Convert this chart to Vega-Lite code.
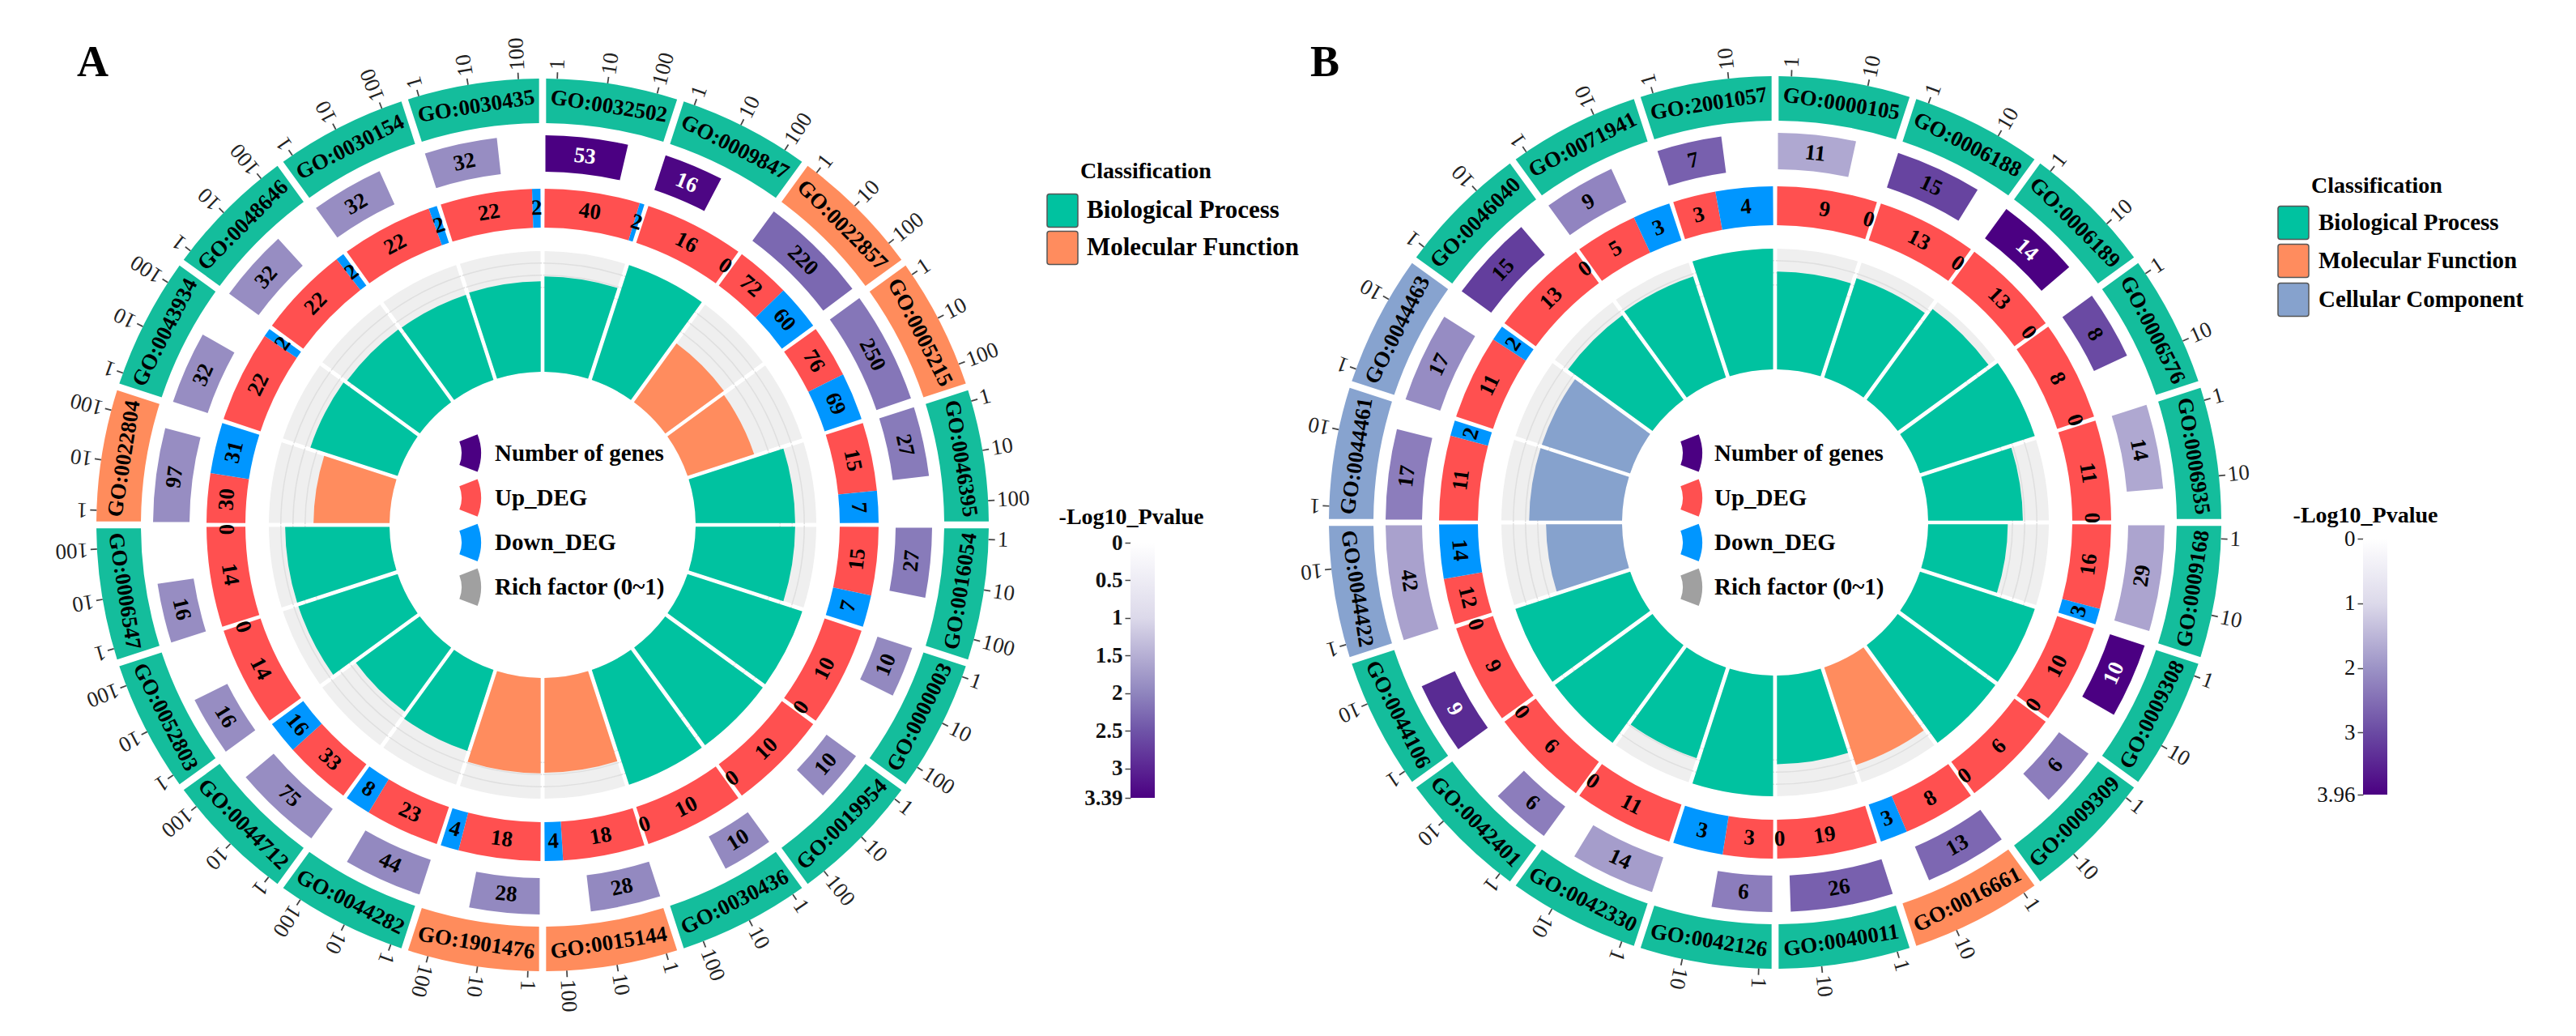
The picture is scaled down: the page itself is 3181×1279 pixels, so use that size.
{"$schema":"https://vega.github.io/schema/vega-lite/v6.json","width":3181,"height":1279,"padding":0,"autosize":{"type":"none"},"background":"white",
"config":{"view":{"stroke":null},"scale":{"pointPadding":0},"text":{"font":"Liberation Serif","fontWeight":"bold","fontSize":27,"color":"#000"}},
"datasets":{"s":[
{"panel":"A","idx":0,"go":"GO:0032502","cls":"Biological Process","up":40,"down":2,"genes":53,"p":3.39,"rich":0.79},
{"panel":"A","idx":1,"go":"GO:0009847","cls":"Biological Process","up":16,"down":0,"genes":16,"p":3.35,"rich":1},
{"panel":"A","idx":2,"go":"GO:0022857","cls":"Molecular Function","up":72,"down":60,"genes":220,"p":2.3,"rich":0.6},
{"panel":"A","idx":3,"go":"GO:0005215","cls":"Molecular Function","up":76,"down":69,"genes":250,"p":2.15,"rich":0.58},
{"panel":"A","idx":4,"go":"GO:0046395","cls":"Biological Process","up":15,"down":7,"genes":27,"p":2.1,"rich":0.825},
{"panel":"A","idx":5,"go":"GO:0016054","cls":"Biological Process","up":15,"down":7,"genes":27,"p":2.1,"rich":0.825},
{"panel":"A","idx":6,"go":"GO:0000003","cls":"Biological Process","up":10,"down":0,"genes":10,"p":1.95,"rich":1},
{"panel":"A","idx":7,"go":"GO:0019954","cls":"Biological Process","up":10,"down":0,"genes":10,"p":1.95,"rich":1},
{"panel":"A","idx":8,"go":"GO:0030436","cls":"Biological Process","up":10,"down":0,"genes":10,"p":1.95,"rich":1},
{"panel":"A","idx":9,"go":"GO:0015144","cls":"Molecular Function","up":18,"down":4,"genes":28,"p":1.95,"rich":0.785},
{"panel":"A","idx":10,"go":"GO:1901476","cls":"Molecular Function","up":18,"down":4,"genes":28,"p":1.95,"rich":0.79},
{"panel":"A","idx":11,"go":"GO:0044282","cls":"Biological Process","up":23,"down":8,"genes":44,"p":1.95,"rich":0.705},
{"panel":"A","idx":12,"go":"GO:0044712","cls":"Biological Process","up":33,"down":16,"genes":75,"p":1.9,"rich":0.655},
{"panel":"A","idx":13,"go":"GO:0052803","cls":"Biological Process","up":14,"down":0,"genes":16,"p":1.9,"rich":0.865},
{"panel":"A","idx":14,"go":"GO:0006547","cls":"Biological Process","up":14,"down":0,"genes":16,"p":1.9,"rich":0.865},
{"panel":"A","idx":15,"go":"GO:0022804","cls":"Molecular Function","up":30,"down":31,"genes":97,"p":1.9,"rich":0.63},
{"panel":"A","idx":16,"go":"GO:0043934","cls":"Biological Process","up":22,"down":2,"genes":32,"p":1.9,"rich":0.76},
{"panel":"A","idx":17,"go":"GO:0048646","cls":"Biological Process","up":22,"down":2,"genes":32,"p":1.9,"rich":0.745},
{"panel":"A","idx":18,"go":"GO:0030154","cls":"Biological Process","up":22,"down":2,"genes":32,"p":1.9,"rich":0.74},
{"panel":"A","idx":19,"go":"GO:0030435","cls":"Biological Process","up":22,"down":2,"genes":32,"p":1.9,"rich":0.75},
{"panel":"B","idx":0,"go":"GO:0000105","cls":"Biological Process","up":9,"down":0,"genes":11,"p":1.7,"rich":0.81},
{"panel":"B","idx":1,"go":"GO:0006188","cls":"Biological Process","up":13,"down":0,"genes":15,"p":3.1,"rich":0.865},
{"panel":"B","idx":2,"go":"GO:0006189","cls":"Biological Process","up":13,"down":0,"genes":14,"p":3.96,"rich":0.93},
{"panel":"B","idx":3,"go":"GO:0006576","cls":"Biological Process","up":8,"down":0,"genes":8,"p":3,"rich":1},
{"panel":"B","idx":4,"go":"GO:0006935","cls":"Biological Process","up":11,"down":0,"genes":14,"p":1.7,"rich":0.785},
{"panel":"B","idx":5,"go":"GO:0009168","cls":"Biological Process","up":16,"down":3,"genes":29,"p":1.75,"rich":0.66},
{"panel":"B","idx":6,"go":"GO:0009308","cls":"Biological Process","up":10,"down":0,"genes":10,"p":3.96,"rich":1},
{"panel":"B","idx":7,"go":"GO:0009309","cls":"Biological Process","up":6,"down":0,"genes":6,"p":2.3,"rich":1},
{"panel":"B","idx":8,"go":"GO:0016661","cls":"Molecular Function","up":8,"down":3,"genes":13,"p":2.6,"rich":0.85},
{"panel":"B","idx":9,"go":"GO:0040011","cls":"Biological Process","up":19,"down":0,"genes":26,"p":2.7,"rich":0.735},
{"panel":"B","idx":10,"go":"GO:0042126","cls":"Biological Process","up":3,"down":3,"genes":6,"p":2.3,"rich":1},
{"panel":"B","idx":11,"go":"GO:0042330","cls":"Biological Process","up":11,"down":0,"genes":14,"p":1.85,"rich":0.79},
{"panel":"B","idx":12,"go":"GO:0042401","cls":"Biological Process","up":6,"down":0,"genes":6,"p":2.3,"rich":1},
{"panel":"B","idx":13,"go":"GO:0044106","cls":"Biological Process","up":9,"down":0,"genes":9,"p":3.5,"rich":1},
{"panel":"B","idx":14,"go":"GO:0044422","cls":"Cellular Component","up":12,"down":14,"genes":42,"p":1.8,"rich":0.63},
{"panel":"B","idx":15,"go":"GO:0044461","cls":"Cellular Component","up":11,"down":2,"genes":17,"p":2.3,"rich":0.77},
{"panel":"B","idx":16,"go":"GO:0044463","cls":"Cellular Component","up":11,"down":2,"genes":17,"p":2.1,"rich":0.77},
{"panel":"B","idx":17,"go":"GO:0046040","cls":"Biological Process","up":13,"down":0,"genes":15,"p":3.2,"rich":0.865},
{"panel":"B","idx":18,"go":"GO:0071941","cls":"Biological Process","up":5,"down":3,"genes":9,"p":2.2,"rich":0.88},
{"panel":"B","idx":19,"go":"GO:2001057","cls":"Biological Process","up":3,"down":4,"genes":7,"p":2.7,"rich":1}
],
"items":[{"panel":"A","item":"Number of genes"},{"panel":"A","item":"Up_DEG"},{"panel":"A","item":"Down_DEG"},{"panel":"A","item":"Rich factor (0~1)"},{"panel":"B","item":"Number of genes"},{"panel":"B","item":"Up_DEG"},{"panel":"B","item":"Down_DEG"},{"panel":"B","item":"Rich factor (0~1)"}],
"classes":[{"panel":"A","slot":1,"cls":"Biological Process"},{"panel":"A","slot":2,"cls":"Molecular Function"},{"panel":"B","slot":11,"cls":"Biological Process"},{"panel":"B","slot":12,"cls":"Molecular Function"},{"panel":"B","slot":13,"cls":"Cellular Component"}],
"panels":[{"panel":"A"},{"panel":"B"}]},
"data":{"name":"s"},
"transform":[
{"calculate":"datum.idx+1","as":"end"},
{"calculate":"datum.idx+0.5","as":"mid"},
{"calculate":"datum.mid*18>90&&datum.mid*18<270?datum.mid*18-180:datum.mid*18","as":"rot"},
{"calculate":"datum.idx+min(1,datum.panel=='A'?0.105+0.361*log(datum.genes)/LN10:0.117+0.55*log(datum.genes)/LN10)","as":"gend"},
{"calculate":"(datum.idx+datum.gend)/2","as":"gmid"},
{"calculate":"datum.gmid*18>90&&datum.gmid*18<270?datum.gmid*18-180:datum.gmid*18","as":"grot"},
{"calculate":"datum.idx+0.02","as":"u0"},
{"calculate":"datum.idx+0.02+0.96*datum.up/(datum.up+datum.down)","as":"u1"},
{"calculate":"datum.idx+0.98","as":"d1"},
{"calculate":"(datum.u0+datum.u1)/2","as":"umid"},
{"calculate":"datum.down>0?(datum.u1+datum.d1)/2:datum.idx+0.955","as":"dmid"},
{"calculate":"datum.umid*18>90&&datum.umid*18<270?datum.umid*18-180:datum.umid*18","as":"urot"},
{"calculate":"datum.dmid*18>90&&datum.dmid*18<270?datum.dmid*18-180:datum.dmid*18","as":"drot"}
],
"encoding":{
"x":{"field":"panel","type":"nominal","axis":null,"scale":{"domain":["A","B"],"range":[670,2192]}},
"y":{"field":"panel","type":"nominal","axis":null,"scale":{"domain":["A","B"],"range":[648,645]}}
},
"resolve":{"scale":{"x":"independent","y":"independent","color":"independent"}},
"layer":[
{"mark":{"type":"arc","outerRadius":551,"innerRadius":496,"padAngle":0.0117},
"encoding":{"theta":{"field":"idx","type":"quantitative","stack":null,"scale":{"domain":[0,20]}},"theta2":{"field":"end"},"color":{"field":"cls","type":"nominal","legend":null,"scale":{"domain":["Biological Process","Molecular Function","Cellular Component"],"range":["#14bd9c","#ff8c5c","#87a3cf"]}}}},
{"transform":[{"filter":"datum.panel=='A'"}],"mark":{"type":"arc","outerRadius":481,"innerRadius":436,"padAngle":0.0108},
"encoding":{"theta":{"field":"idx","type":"quantitative","stack":null,"scale":{"domain":[0,20]}},"theta2":{"field":"gend"},"color":{"field":"p","type":"quantitative","legend":null,"scale":{"domain":[0,1,2,2.5,3.39],"range":["#ffffff","#dcd9ea","#8f85be","#6f54a8","#4b0082"]}}}},
{"transform":[{"filter":"datum.panel=='B'"}],"mark":{"type":"arc","outerRadius":481,"innerRadius":436,"padAngle":0.0108},
"encoding":{"theta":{"field":"idx","type":"quantitative","stack":null,"scale":{"domain":[0,20]}},"theta2":{"field":"gend"},"color":{"field":"p","type":"quantitative","legend":null,"scale":{"domain":[0,1,2,3,3.96],"range":["#ffffff","#dcd9ea","#9c93c6","#6a4aa3","#4b0082"]}}}},
{"mark":{"type":"arc","outerRadius":415,"innerRadius":367,"fill":"#ff5050"},
"encoding":{"theta":{"field":"u0","type":"quantitative","stack":null,"scale":{"domain":[0,20]}},"theta2":{"field":"u1"}}},
{"mark":{"type":"arc","outerRadius":415,"innerRadius":367,"fill":"#0096ff"},
"encoding":{"theta":{"field":"u1","type":"quantitative","stack":null,"scale":{"domain":[0,20]}},"theta2":{"field":"d1"}}},
{"mark":{"type":"arc","outerRadius":338,"innerRadius":189,"padAngle":0.013,"fill":"#efefef"},
"encoding":{"theta":{"field":"idx","type":"quantitative","stack":null,"scale":{"domain":[0,20]}},"theta2":{"field":"end"}}},
{"mark":{"type":"arc","outerRadius":294,"innerRadius":292.5,"padAngle":0.0035,"fill":"#dfdfdf"},
"encoding":{"theta":{"field":"idx","type":"quantitative","stack":null,"scale":{"domain":[0,20]}},"theta2":{"field":"end"}}},
{"mark":{"type":"arc","outerRadius":309,"innerRadius":307.5,"padAngle":0.0035,"fill":"#dfdfdf"},
"encoding":{"theta":{"field":"idx","type":"quantitative","stack":null,"scale":{"domain":[0,20]}},"theta2":{"field":"end"}}},
{"mark":{"type":"arc","outerRadius":324,"innerRadius":322.5,"padAngle":0.0035,"fill":"#dfdfdf"},
"encoding":{"theta":{"field":"idx","type":"quantitative","stack":null,"scale":{"domain":[0,20]}},"theta2":{"field":"end"}}},
{"mark":{"type":"arc","padAngle":0.013},
"encoding":{"theta":{"field":"idx","type":"quantitative","stack":null,"scale":{"domain":[0,20]}},"theta2":{"field":"end"},"radius":{"field":"rich","type":"quantitative","scale":{"domain":[0,1],"range":[189,338]}},"color":{"field":"cls","type":"nominal","legend":null,"scale":{"domain":["Biological Process","Molecular Function","Cellular Component"],"range":["#00c2a0","#ff8c5e","#86a2cd"]}}}},
{"transform":[{"calculate":"datum.panel=='A'?[1,10,100]:[1,10]","as":"ticks"},{"flatten":["ticks"],"as":["tick"]},{"calculate":"datum.idx+(datum.panel=='A'?0.105+0.361*log(datum.tick)/LN10:0.117+0.55*log(datum.tick)/LN10)","as":"tpos"},{"calculate":"datum.tpos-0.005","as":"t0"},{"calculate":"datum.tpos+0.005","as":"t1"},{"calculate":"datum.tpos*18-90","as":"trot"}],
"layer":[
{"mark":{"type":"arc","outerRadius":559,"innerRadius":551,"fill":"#444"},
"encoding":{"theta":{"field":"t0","type":"quantitative","stack":null,"scale":{"domain":[0,20]}},"theta2":{"field":"t1"}}},
{"mark":{"type":"text","align":"left","baseline":"middle","fontWeight":"normal","fontSize":27,"color":"#222"},
"encoding":{"theta":{"field":"tpos","type":"quantitative","stack":null,"scale":{"domain":[0,20]}},"radius":{"value":562},"angle":{"field":"trot","type":"quantitative","scale":null},"text":{"field":"tick","type":"nominal"}}}
]},
{"mark":{"type":"text","align":"center","baseline":"middle"},
"encoding":{"theta":{"field":"mid","type":"quantitative","stack":null,"scale":{"domain":[0,20]}},"radius":{"value":523},"angle":{"field":"rot","type":"quantitative","scale":null},"text":{"field":"go"}}},
{"mark":{"type":"text","align":"center","baseline":"middle"},
"encoding":{"theta":{"field":"gmid","type":"quantitative","stack":null,"scale":{"domain":[0,20]}},"radius":{"value":458},"angle":{"field":"grot","type":"quantitative","scale":null},"text":{"field":"genes","type":"quantitative"},"color":{"condition":{"test":"datum.p>=3.3","value":"white"},"value":"black"}}},
{"mark":{"type":"text","align":"center","baseline":"middle"},
"encoding":{"theta":{"field":"umid","type":"quantitative","stack":null,"scale":{"domain":[0,20]}},"radius":{"value":391},"angle":{"field":"urot","type":"quantitative","scale":null},"text":{"field":"up","type":"quantitative"}}},
{"mark":{"type":"text","align":"center","baseline":"middle"},
"encoding":{"theta":{"field":"dmid","type":"quantitative","stack":null,"scale":{"domain":[0,20]}},"radius":{"value":391},"angle":{"field":"drot","type":"quantitative","scale":null},"text":{"field":"down","type":"quantitative"}}},
{"data":{"name":"panels"},"transform":[],"mark":{"type":"text","align":"left","baseline":"alphabetic","fontSize":54},
"encoding":{"x":{"field":"panel","type":"nominal","axis":null,"scale":{"domain":["A","B"],"range":[95,1618]}},"y":{"field":"panel","type":"nominal","axis":null,"scale":{"domain":["A","B"],"range":[94,94]}},"text":{"field":"panel"}}},
{"data":{"name":"items"},"mark":{"type":"arc","outerRadius":64,"innerRadius":40},
"encoding":{"x":{"field":"panel","type":"nominal","axis":null,"scale":{"domain":["A","B"],"range":[530,2038]}},"y":{"field":"item","type":"nominal","axis":null,"scale":{"domain":["Number of genes","Up_DEG","Down_DEG","Rich factor (0~1)"],"range":[559.5,725]}},"theta":{"value":1.2},"theta2":{"value":1.94},"color":{"field":"item","type":"nominal","legend":null,"scale":{"domain":["Number of genes","Up_DEG","Down_DEG","Rich factor (0~1)"],"range":["#4b0082","#ff5050","#0096ff","#a0a0a0"]}}}},
{"data":{"name":"items"},"mark":{"type":"text","align":"left","baseline":"middle","fontSize":29},
"encoding":{"x":{"field":"panel","type":"nominal","axis":null,"scale":{"domain":["A","B"],"range":[611,2117]}},"y":{"field":"item","type":"nominal","axis":null,"scale":{"domain":["Number of genes","Up_DEG","Down_DEG","Rich factor (0~1)"],"range":[559.5,725]}},"text":{"field":"item"}}},
{"data":{"name":"panels"},"mark":{"type":"text","align":"center","baseline":"middle","fontSize":28},
"encoding":{"x":{"field":"panel","type":"nominal","axis":null,"scale":{"domain":["A","B"],"range":[1415,2935]}},"y":{"field":"panel","type":"nominal","axis":null,"scale":{"domain":["A","B"],"range":[212,230]}},"text":{"value":"Classification"}}},
{"data":{"name":"classes"},"mark":{"type":"rect","width":38,"height":41,"cornerRadius":3,"stroke":"#555","strokeWidth":1.5},
"encoding":{"x":{"field":"panel","type":"nominal","axis":null,"scale":{"type":"point","domain":["A","B"],"range":[1312,2832]}},"y":{"field":"slot","type":"quantitative","axis":null,"scale":{"domain":[1,2,11,12,13],"range":[260,306,275,322,370]}},"color":{"field":"cls","type":"nominal","legend":null,"scale":{"domain":["Biological Process","Molecular Function","Cellular Component"],"range":["#00c2a0","#ff8c5e","#86a2cd"]}}}},
{"data":{"name":"classes"},"mark":{"type":"text","align":"left","baseline":"middle"},
"encoding":{"x":{"field":"panel","type":"nominal","axis":null,"scale":{"domain":["A","B"],"range":[1342,2863]}},"y":{"field":"slot","type":"quantitative","axis":null,"scale":{"domain":[1,2,11,12,13],"range":[260,306,275,322,370]}},"text":{"field":"cls"},"size":{"field":"panel","type":"ordinal","legend":null,"scale":{"domain":["A","B"],"range":[31,29]}}}},
{"data":{"name":"panels"},"mark":{"type":"text","align":"center","baseline":"middle","fontSize":28},
"encoding":{"x":{"field":"panel","type":"nominal","axis":null,"scale":{"domain":["A","B"],"range":[1397,2921]}},"y":{"field":"panel","type":"nominal","axis":null,"scale":{"domain":["A","B"],"range":[639,637]}},"text":{"value":"-Log10_Pvalue"}}},
{"data":{"values":[{"panel":"A","from":0,"to":3.39}]},"mark":{"type":"rect","width":30,"fill":{"gradient":"linear","x1":0,"y1":0,"x2":0,"y2":1,"stops":[{"offset":0,"color":"#ffffff"},{"offset":0.295,"color":"#dcd9ea"},{"offset":0.59,"color":"#8f85be"},{"offset":0.737,"color":"#6f54a8"},{"offset":1,"color":"#4b0082"}]}},
"encoding":{"x":{"field":"panel","type":"nominal","axis":null,"scale":{"type":"point","domain":["A","B"],"range":[1411,2933]}},"y":{"field":"from","type":"quantitative","scale":{"domain":[0,3.39],"range":[670,985],"nice":false,"zero":false},"axis":{"orient":"left","offset":-1396,"values":[0,0.5,1,1.5,2,2.5,3,3.39],"format":".3~g","domain":false,"grid":false,"title":null,"tickSize":7,"tickColor":"#444","tickWidth":1.5,"labelFont":"Liberation Serif","labelFontSize":27,"labelFontWeight":"bold","labelColor":"#111","labelPadding":3,"labelOverlap":false,"labelBound":false}},"y2":{"field":"to"}}},
{"data":{"values":[{"panel":"B","from":0,"to":3.96}]},"mark":{"type":"rect","width":30,"fill":{"gradient":"linear","x1":0,"y1":0,"x2":0,"y2":1,"stops":[{"offset":0,"color":"#ffffff"},{"offset":0.253,"color":"#dcd9ea"},{"offset":0.505,"color":"#9c93c6"},{"offset":0.758,"color":"#6a4aa3"},{"offset":1,"color":"#4b0082"}]}},
"encoding":{"x":{"field":"panel","type":"nominal","axis":null,"scale":{"type":"point","domain":["A","B"],"range":[1411,2933]}},"y":{"field":"from","type":"quantitative","scale":{"domain":[0,3.96],"range":[665,981],"nice":false,"zero":false},"axis":{"orient":"left","offset":-2918,"values":[0,1,2,3,3.96],"format":".3~g","domain":false,"grid":false,"title":null,"tickSize":7,"tickColor":"#444","tickWidth":1.5,"labelFont":"Liberation Serif","labelFontSize":27,"labelFontWeight":"normal","labelColor":"#111","labelPadding":3,"labelOverlap":false,"labelBound":false}},"y2":{"field":"to"}}}
]}
